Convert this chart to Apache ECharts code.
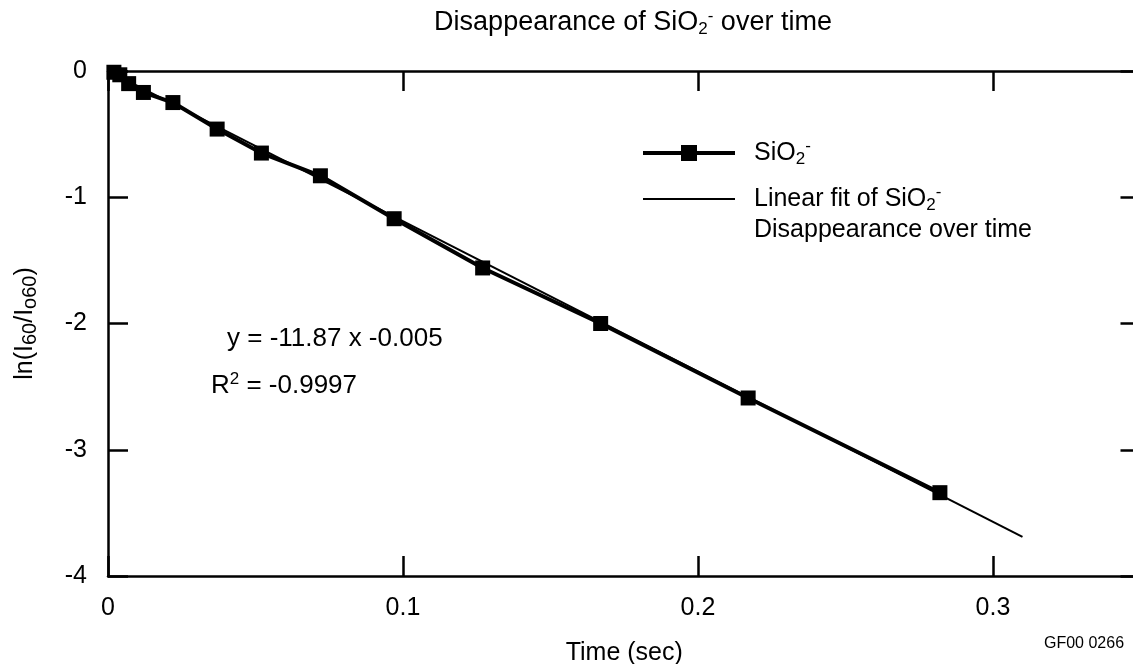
<!DOCTYPE html>
<html>
<head>
<meta charset="utf-8">
<script src="https://cdn.jsdelivr.net/npm/echarts@6/dist/echarts.min.js"></script>
<style>html,body{margin:0;padding:0;background:#fff}#c{width:1133px;height:664px}</style>
</head>
<body>
<div id="c"></div>
<script>
// Data
const timeSec = [0.002, 0.004, 0.007, 0.012, 0.022, 0.037, 0.052, 0.072, 0.097, 0.127, 0.167, 0.217, 0.282];
const lnRatio = [-0.01, -0.03, -0.10, -0.17, -0.25, -0.46, -0.65, -0.83, -1.17, -1.56, -2.00, -2.59, -3.34];
const fitX = [-0.026, 0.31];
const fitY = [0.31, -3.69];
const xTicks = [0, 0.1, 0.2, 0.3];
const yTicks = [0, -1, -2, -3, -4];

const FONT = '"Liberation Sans", Arial, sans-serif';
const FS = 25;
function rich(fs, subFs) {
  const s = subFs || 17;
  return {
    n: { fontSize: fs, lineHeight: 30, color: '#000', fontFamily: FONT, fontWeight: 'normal' },
    sub: { fontSize: s, lineHeight: 14, verticalAlign: 'bottom', color: '#000', fontFamily: FONT, fontWeight: 'normal' },
    sup: { fontSize: s, lineHeight: 14, verticalAlign: 'top', color: '#000', fontFamily: FONT, fontWeight: 'normal' }
  };
}
function axisLine() { return { show: true, onZero: false, lineStyle: { color: '#000', width: 2.5 } }; }
function axisTick() { return { show: true, inside: true, length: 20, lineStyle: { color: '#000', width: 2.5 } }; }

const chart = echarts.init(document.getElementById('c'), null, { renderer: 'canvas' });

chart.setOption({
  animation: false,
  backgroundColor: '#fff',
  title: {
    text: '{n|Disappearance of SiO}{sub|2}{sup|-}{n| over time}',
    left: 633, top: 8, padding: 0, textAlign: 'center',
    textStyle: { fontWeight: 'normal', rich: rich(27) }
  },
  legend: {
    orient: 'vertical', left: 641, top: 138, padding: 0,
    itemWidth: 92, itemHeight: 20, itemGap: 16,
    data: [
      { name: 'SiO2', lineStyle: { width: 4, color: '#000' }, itemStyle: { color: '#000' } },
      { name: 'fit', lineStyle: { width: 2, color: '#000' }, itemStyle: { color: 'rgba(0,0,0,0)', borderWidth: 0 } }
    ],
    formatter: function (name) {
      if (name === 'SiO2') return '{n|SiO}{sub|2}{sup|-}';
      return '{n|Linear fit of SiO}{sub|2}{sup|-}';
    },
    textStyle: { padding: [0, 0, 0, 14], rich: rich(FS) }
  },
  grid: { left: 108, top: 71, width: 1032.5, height: 505, containLabel: false, outerBoundsMode: 'none' },
  xAxis: [{
    type: 'value', min: 0, max: 0.35, interval: 0.1, position: 'bottom',
    axisLine: axisLine(), axisTick: axisTick(), splitLine: { show: false },
    axisLabel: { fontSize: FS, color: '#000', fontFamily: FONT, margin: 20, showMaxLabel: false,
      formatter: function (v) {
        const r = Math.round(v * 10) / 10;
        return (Math.abs(v - r) < 1e-9 && xTicks.includes(r)) ? String(r) : '';
      } },
    name: 'Time (sec)', nameLocation: 'middle', nameGap: 65,
    nameTextStyle: { fontSize: FS, color: '#000', fontFamily: FONT }
  }, {
    type: 'value', min: 0, max: 0.35, interval: 0.1, position: 'top',
    axisLine: axisLine(), axisTick: axisTick(), axisLabel: { show: false }, splitLine: { show: false }
  }],
  yAxis: [{
    type: 'value', min: -4, max: 0, interval: 1, position: 'left',
    axisLine: axisLine(), axisTick: axisTick(), splitLine: { show: false },
    axisLabel: { fontSize: FS, color: '#000', fontFamily: FONT, margin: 21,
      formatter: v => yTicks.includes(v) ? String(v) : '' },
    name: '{n|ln(I}{sub|60}{n|/I}{sub|o60}{n|)}', nameLocation: 'middle', nameGap: 68, nameRotate: 90,
    nameTextStyle: { rich: rich(FS, 20) }
  }, {
    type: 'value', min: -4, max: 0, interval: 1, position: 'right',
    axisLine: axisLine(), axisTick: axisTick(), axisLabel: { show: false }, splitLine: { show: false }
  }],
  series: [{
    name: 'SiO2', type: 'line',
    data: timeSec.map((t, i) => [t, lnRatio[i]]),
    symbol: 'rect', symbolSize: 15,
    lineStyle: { color: '#000', width: 4 },
    itemStyle: { color: '#000' },
    z: 3
  }, {
    name: 'fit', type: 'line',
    data: fitX.map((t, i) => [t, fitY[i]]),
    symbol: 'none', clip: false,
    lineStyle: { color: '#000', width: 2 },
    itemStyle: { color: '#000' },
    z: 2
  }],
  graphic: [{
    type: 'text', left: 754, top: 218,
    style: { text: '{n|Disappearance over time}', rich: rich(FS) }
  }, {
    type: 'text', left: 227, top: 326,
    style: { text: '{n|y = -11.87 x -0.005}', rich: rich(26) }
  }, {
    type: 'text', left: 211, top: 371,
    style: { text: '{n|R}{sup|2}{n| = -0.9997}', rich: rich(26) }
  }, {
    type: 'text', left: 1044, top: 636,
    style: { text: 'GF00 0266', fontSize: 16, fill: '#000', fontFamily: FONT }
  }]
});
</script>
</body>
</html>
